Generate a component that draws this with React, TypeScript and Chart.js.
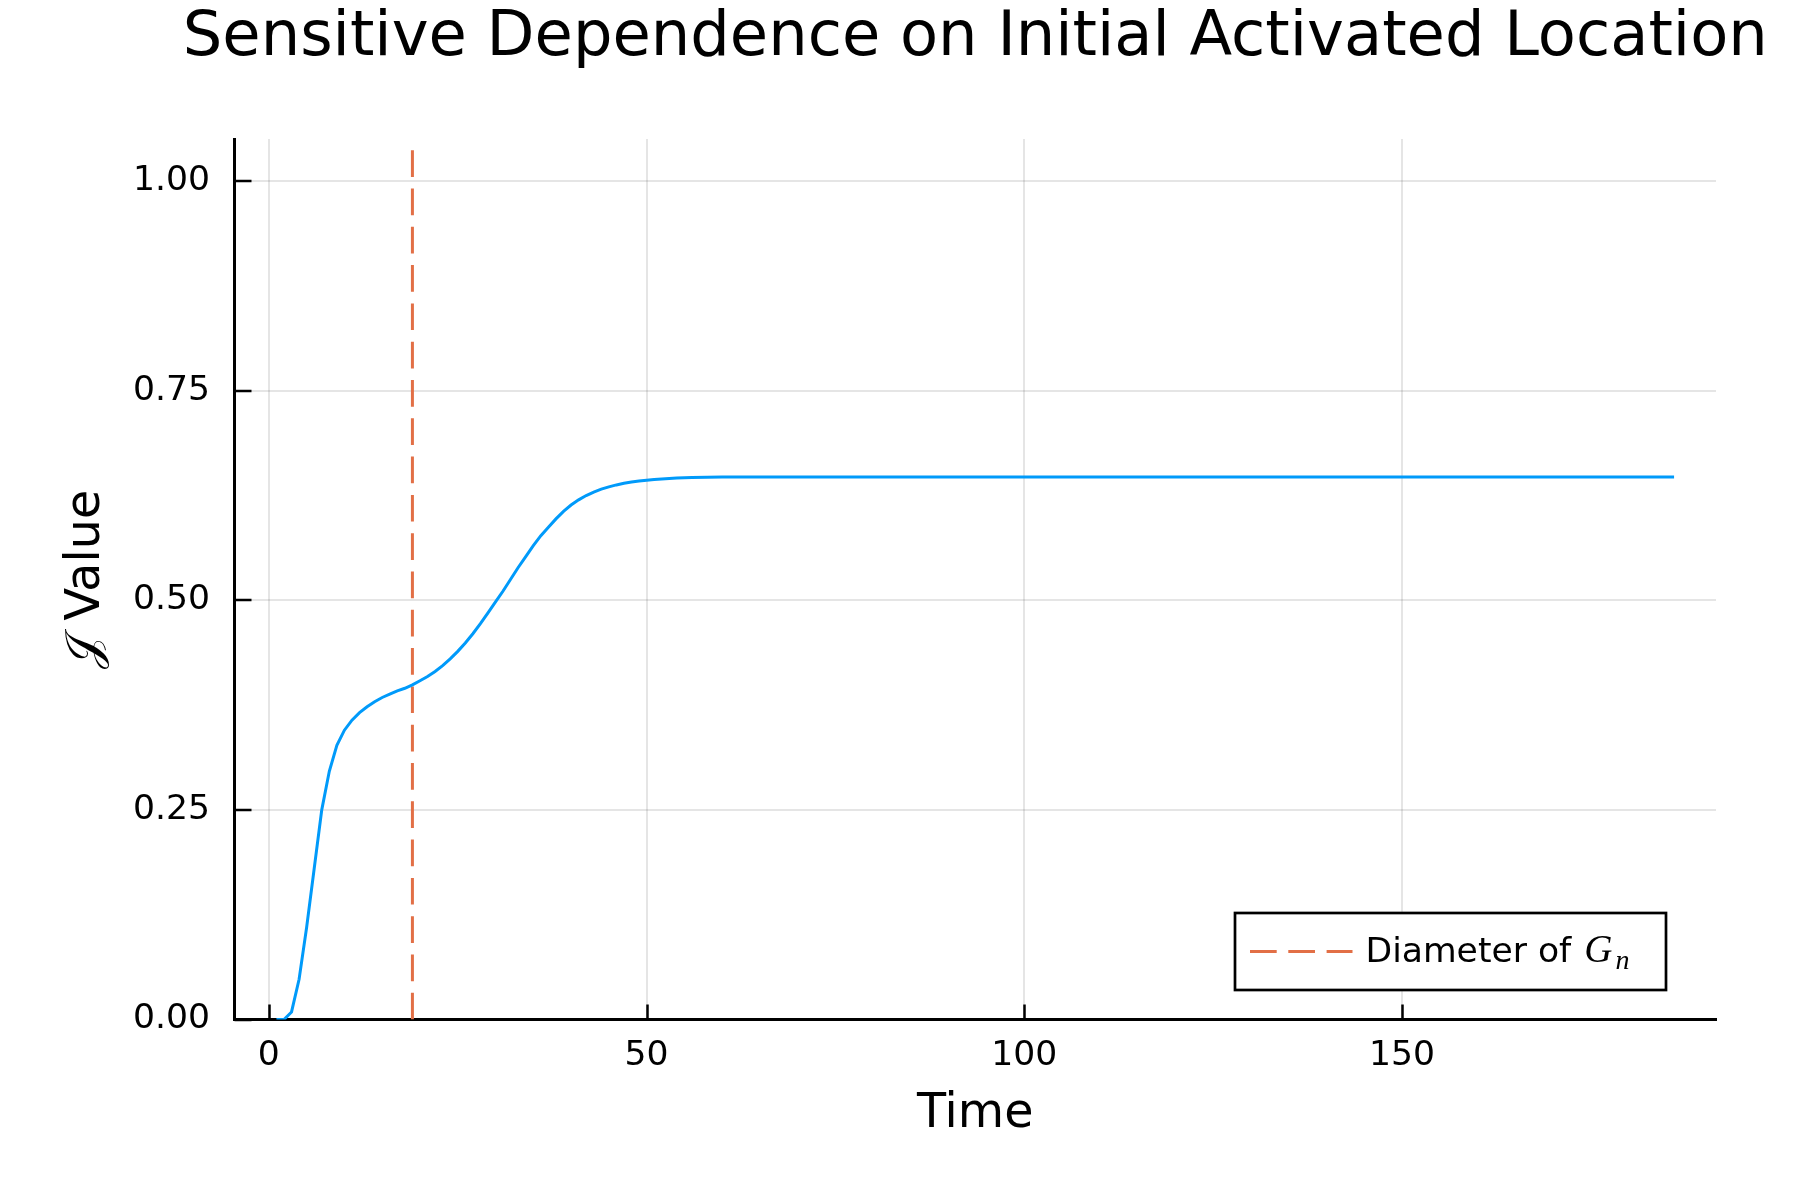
import React, { useEffect, useRef } from "react";
import { Chart, registerables } from "chart.js";

Chart.register(...registerables);

// ---- data ----
const timeSteps = [
  1, 2, 3, 4, 5, 6, 7, 8, 9, 10, 11, 12, 13, 14, 15, 16, 17, 18, 19, 20,
  21, 22, 23, 24, 25, 26, 27, 28, 29, 30, 31, 32, 33, 34, 35, 36, 37, 38, 39, 40,
  41, 42, 43, 44, 45, 46, 47, 48, 49, 50, 51, 52, 53, 54, 55, 56, 58, 60, 65, 70,
  80, 100, 120, 150, 186,
];
const jValues = [
  0.0, 0.0, 0.009, 0.048, 0.11, 0.18, 0.25, 0.296, 0.327, 0.345, 0.357, 0.366, 0.373, 0.379, 0.384, 0.388, 0.392, 0.395, 0.399, 0.404,
  0.409, 0.415, 0.422, 0.43, 0.439, 0.449, 0.46, 0.472, 0.485, 0.498, 0.511, 0.525, 0.539, 0.552, 0.565, 0.577, 0.587, 0.597, 0.606, 0.6135,
  0.6197, 0.6248, 0.629, 0.6324, 0.6352, 0.6375, 0.6394, 0.6409, 0.6421, 0.6431, 0.6439, 0.6446, 0.6451, 0.6456, 0.6459, 0.6462, 0.6466, 0.6468, 0.647, 0.647,
  0.647, 0.647, 0.647, 0.647, 0.647,
];
const diameterX = [19, 19];
const diameterY = [0, 1.05];

const xTickValues = [0, 50, 100, 150];
const xTickLabels = ["0", "50", "100", "150"];
const yTickValues = [0, 0.25, 0.5, 0.75, 1.0];
const yTickLabels = ["0.00", "0.25", "0.50", "0.75", "1.00"];

const titleText = "Sensitive Dependence on Initial Activated Location";
const xTitleText = "Time";
const yTitleText = "𝒥 Value";
const legendPrefix = "Diameter of ";
const legendMain = "G";
const legendSub = "n";

const FONT = "'DejaVu Sans', sans-serif";
const BLUE = "#009AFA";
const ORANGE = "#E26F46";
const DASH = [26.7, 11.6];

const decorPlugin = {
  id: "decor",
  afterDraw(chart: any) {
    const { ctx, chartArea } = chart;
    const xs = chart.scales.x;
    const ys = chart.scales.y;
    ctx.save();
    // title
    ctx.fillStyle = "#000";
    ctx.font = `62.3px ${FONT}`;
    ctx.textAlign = "center";
    ctx.textBaseline = "alphabetic";
    ctx.fillText(titleText, (chartArea.left + chartArea.right) / 2, 55);

    // inward ticks
    ctx.strokeStyle = "#000";
    ctx.lineWidth = 2.5;
    ctx.beginPath();
    for (const v of xTickValues) {
      const px = Math.round(xs.getPixelForValue(v)) + 0.5;
      ctx.moveTo(px, chartArea.bottom);
      ctx.lineTo(px, chartArea.bottom - 15);
    }
    for (const v of yTickValues) {
      const py = Math.round(ys.getPixelForValue(v));
      ctx.moveTo(chartArea.left, py);
      ctx.lineTo(chartArea.left + 17, py);
    }
    ctx.stroke();

    // legend
    const bx1 = chartArea.right - 50;
    const by2 = chartArea.bottom - 29.5;
    const bw = 431;
    const bh = 77;
    const bx0 = bx1 - bw;
    const by0 = by2 - bh;
    ctx.fillStyle = "#fff";
    ctx.fillRect(bx0, by0, bw, bh);
    ctx.lineWidth = 2.7;
    ctx.strokeStyle = "#000";
    ctx.strokeRect(bx0, by0, bw, bh);
    const ly = by0 + 38.5;
    ctx.strokeStyle = ORANGE;
    ctx.lineWidth = 3;
    ctx.setLineDash(DASH);
    ctx.beginPath();
    ctx.moveTo(bx0 + 15, ly);
    ctx.lineTo(bx0 + 117.5, ly);
    ctx.stroke();
    ctx.setLineDash([]);
    ctx.fillStyle = "#000";
    ctx.textAlign = "left";
    ctx.textBaseline = "alphabetic";
    ctx.font = `34.6px ${FONT}`;
    const tx = bx0 + 130.5;
    const tb = by0 + 48.5;
    ctx.fillText(legendPrefix, tx, tb);
    const w1 = ctx.measureText(legendPrefix).width;
    ctx.font = `italic 39px 'Liberation Serif', serif`;
    ctx.fillText(legendMain, tx + w1 + 2, tb);
    const w2 = ctx.measureText(legendMain).width;
    ctx.font = `italic 28px 'Liberation Serif', serif`;
    ctx.fillText(legendSub, tx + w1 + 2 + w2 + 3, tb + 7);
    ctx.restore();
  },
};

export default function App() {
  const ref = useRef<HTMLCanvasElement | null>(null);
  useEffect(() => {
    document.body.style.margin = "0";
    const canvas = ref.current;
    if (!canvas) return;
    const mainData = timeSteps.map((t, i) => ({ x: t, y: jValues[i] }));
    const diamData = diameterX.map((t, i) => ({ x: t, y: diameterY[i] }));
    const chart = new Chart(canvas, {
      type: "line",
      data: {
        datasets: [
          {
            label: "J",
            data: mainData,
            borderColor: BLUE,
            borderWidth: 3,
            pointRadius: 0,
            tension: 0,
            fill: false,
          },
          {
            label: "Diameter of G_n",
            data: diamData,
            borderColor: ORANGE,
            borderWidth: 3,
            borderDash: DASH,
            pointRadius: 0,
            tension: 0,
            fill: false,
          },
        ],
      },
      options: {
        animation: false,
        responsive: false,
        devicePixelRatio: 1,
        layout: { padding: { top: 139, right: 84, left: 0, bottom: 0 } },
        plugins: {
          legend: { display: false },
          title: { display: false },
          tooltip: { enabled: false },
        },
        scales: {
          x: {
            type: "linear",
            min: -4.55,
            max: 191.55,
            afterBuildTicks: (s: any) => {
              s.ticks = xTickValues.map((v) => ({ value: v }));
            },
            afterFit: (s: any) => {
              s.height = 180.5;
            },
            ticks: {
              color: "#000",
              font: { family: FONT, size: 34.6 },
              padding: 16,
              maxRotation: 0,
              callback: (_v: any, i: number) => xTickLabels[i],
            },
            grid: { color: "rgba(0,0,0,0.1)", lineWidth: 2, drawTicks: false },
            border: { display: true, color: "#000", width: 3 },
            title: {
              display: true,
              text: xTitleText,
              color: "#000",
              font: { family: FONT, size: 47.6 },
              padding: { top: 0, bottom: 57 },
            },
          },
          y: {
            type: "linear",
            min: 0,
            max: 1.05,
            afterBuildTicks: (s: any) => {
              s.ticks = yTickValues.map((v) => ({ value: v }));
            },
            afterFit: (s: any) => {
              s.width = 234.5;
            },
            ticks: {
              color: "#000",
              font: { family: FONT, size: 34.6 },
              padding: 24.5,
              callback: (_v: any, i: number) => yTickLabels[i],
            },
            grid: { color: "rgba(0,0,0,0.1)", lineWidth: 2, drawTicks: false },
            border: { display: true, color: "#000", width: 3 },
            title: {
              display: true,
              text: yTitleText,
              color: "#000",
              font: { family: FONT, size: 47.6 },
              padding: { top: 58, bottom: 0 },
            },
          },
        },
      },
      plugins: [decorPlugin],
    });
    return () => chart.destroy();
  }, []);
  return (
    <canvas
      ref={ref}
      width={1800}
      height={1200}
      style={{ display: "block", width: "1800px", height: "1200px" }}
    />
  );
}
